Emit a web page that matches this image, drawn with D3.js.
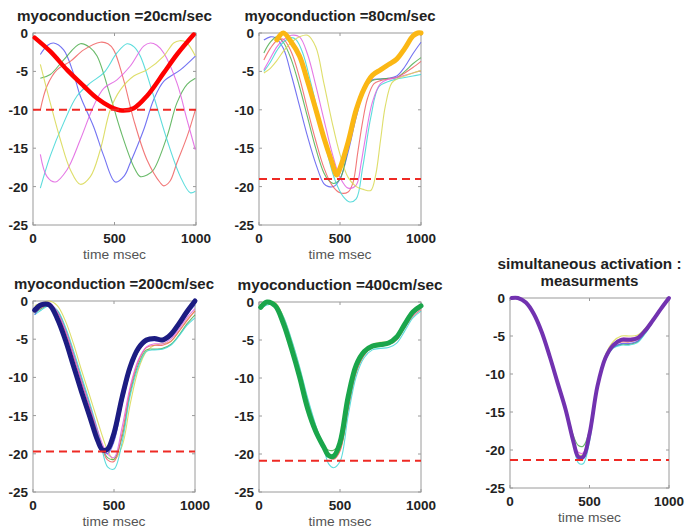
<!DOCTYPE html>
<html>
<head>
<meta charset="utf-8">
<script src="https://cdn.jsdelivr.net/npm/d3@7"></script>
<style>
  body { margin: 0; background: #fff; }
  svg { display: block; }
  text { font-family: "Liberation Sans", Arial, sans-serif; }
</style>
</head>
<body>
<svg id="chart" width="685" height="529"></svg>
<script>
// ---- data (time in msec) ----
var xTicks = [0, 500, 1000];
var yTicks = [0, -5, -10, -15, -20, -25];

// panel 1 : 20 cm/sec
var p1Thick = [[10,-0.6],[106,-2.4],[209,-4.8],[311,-6.9],[393,-8.5],[474,-9.6],[546,-10.1],[618,-9.8],[699,-8.2],[802,-5.2],[883,-2.8],[986,-0.2]];
var p1Blue = [[45,-2.8],[90,-1.6],[127,-1.3],[188,-2.2],[249,-5.3],[290,-8.2],[372,-12.2],[434,-16],[505,-19.4],[560,-18.6],[597,-16.9],[679,-12.6],[740,-8.7],[802,-6.3],[904,-4.8],[996,-3.0]];
var p1Green = [[45,-5.9],[106,-5.4],[188,-3.5],[290,-1.4],[350,-1.9],[393,-3.0],[474,-8.2],[536,-12.6],[618,-17.4],[658,-18.7],[700,-18.5],[740,-17.8],[822,-13.5],[883,-9.1],[945,-6.7],[996,-5.9]];
var p1Red = [[45,-10],[86,-6.9],[147,-4.8],[229,-3.7],[311,-2.2],[413,-1.2],[460,-1.4],[495,-2.2],[556,-6.1],[618,-11.3],[699,-16.5],[781,-19.5],[802,-19.9],[840,-19.3],[883,-16.9],[945,-13.5],[996,-10]];
var p1Cyan = [[45,-20.2],[106,-16],[188,-11.7],[270,-8.2],[352,-6.5],[434,-5.2],[515,-2.6],[577,-1.4],[620,-1.8],[658,-3.0],[740,-8.2],[822,-13.9],[904,-18.7],[965,-20.8],[996,-20.6]];
var p1Magenta = [[45,-15.8],[86,-18.7],[137,-19.4],[209,-17.8],[290,-13.9],[372,-9.5],[434,-7.2],[515,-6.1],[597,-4.3],[679,-1.7],[720,-1.3],[760,-1.6],[802,-2.6],[883,-6.5],[945,-11.3],[996,-15.2]];
var p1Yellow = [[45,-4.1],[106,-9.1],[168,-13.9],[229,-17.8],[290,-19.7],[352,-18.7],[413,-15.2],[474,-10],[536,-7.4],[618,-5.6],[699,-4.8],[802,-3.0],[863,-1.3],[900,-1.0],[940,-1.2],[996,-3.0]];

// panel 2 : 80 cm/sec
var p2Thick = [[110,-0.9],[150,0],[200,-1.2],[250,-3.0],[300,-6.3],[350,-9.9],[400,-13.6],[450,-16.8],[480,-18.5],[500,-17.6],[550,-14.2],[600,-10.0],[650,-7.2],[700,-5.5],[750,-4.8],[800,-4.1],[850,-3.4],[900,-2.0],[950,-0.4],[980,0],[1000,0]];
var p2Blue = [[30,-0.9],[70,-0.5],[100,-0.6],[150,-2.0],[200,-5.5],[250,-9.5],[300,-13.5],[350,-17.0],[400,-19.6],[430,-20.0],[460,-20.0],[500,-19.0],[550,-15.5],[600,-11.0],[650,-7.5],[700,-6.1],[750,-6.0],[800,-5.9],[850,-5.6],[900,-4.4],[950,-2.7],[1000,-1.2]];
var p2Green = [[30,-2.6],[70,-1.2],[110,-0.5],[150,-1.2],[200,-3.5],[250,-7.0],[300,-11.0],[350,-15.0],[400,-18.2],[430,-19.2],[460,-19.6],[500,-19.0],[550,-15.0],[600,-10.5],[650,-7.3],[700,-6.2],[750,-6.0],[800,-5.9],[850,-5.8],[900,-5.0],[950,-4.0],[1000,-3.2]];
var p2Red = [[30,-3.5],[70,-2.0],[110,-1.0],[150,-0.8],[200,-2.5],[250,-5.8],[300,-10.0],[350,-14.0],[400,-17.5],[450,-19.8],[500,-20.8],[550,-20.7],[580,-19.5],[610,-15.5],[640,-11.5],[670,-8.5],[710,-6.6],[750,-6.2],[800,-6.0],[850,-5.8],[900,-5.2],[950,-4.5],[1000,-3.7]];
var p2Cyan = [[30,-5.0],[70,-3.8],[110,-2.3],[150,-1.2],[200,-0.6],[230,-0.9],[270,-2.6],[320,-6.5],[370,-11.0],[420,-15.5],[470,-19.2],[520,-21.3],[560,-22.0],[600,-21.6],[640,-17.5],[690,-11.0],[740,-7.0],[800,-6.3],[850,-6.0],[900,-5.8],[950,-5.6],[1000,-5.4]];
var p2Magenta = [[30,-4.8],[70,-3.3],[110,-1.8],[150,-0.9],[200,-0.3],[250,-0.5],[300,-2.8],[350,-6.8],[400,-11.2],[450,-15.5],[500,-18.8],[550,-20.2],[600,-19.8],[630,-17.0],[650,-14.5],[700,-9.0],[750,-6.6],[800,-6.0],[850,-5.8],[900,-5.5],[950,-5.2],[1000,-4.9]];
var p2Yellow = [[30,-5.2],[70,-4.6],[110,-3.6],[150,-2.4],[200,-1.2],[250,-0.5],[300,-0.3],[350,-1.8],[400,-6.5],[450,-11.5],[500,-15.8],[550,-18.8],[600,-20.0],[650,-20.4],[690,-20.5],[720,-18.5],[750,-14.0],[780,-9.5],[820,-6.5],[860,-5.9],[900,-5.6],[950,-5.2],[1000,-4.9]];

// panels 3-5 share one time grid
var tGrid = [10, 50, 100, 150, 200, 250, 300, 350, 400, 430, 460, 500, 550, 600, 650, 700, 750, 800, 850, 900, 950, 1000];

// panel 3 : 200 cm/sec
var p3Thick   = [-1.2,-0.5,-0.5,-2.3,-5.1,-8.5,-11.9,-15.1,-18.3,-19.5,-19.4,-17.3,-12.6,-8.6,-6.2,-5.1,-4.9,-5.1,-4.4,-3.0,-1.4,0];
var p3Blue    = [-1.8,-0.8,-0.4,-1.9,-4.6,-8.0,-11.4,-14.7,-18.0,-19.6,-20.0,-18.4,-13.5,-9.3,-6.6,-5.4,-5.2,-5.3,-4.7,-3.3,-1.8,-0.5];
var p3Green   = [-1.6,-1.0,-0.6,-1.3,-3.6,-6.8,-10.2,-13.6,-17.2,-19.3,-20.5,-20.7,-17.8,-12.0,-8.3,-6.4,-6.3,-6.2,-5.7,-4.5,-3.0,-1.8];
var p3Red     = [-1.5,-0.9,-0.5,-1.5,-4.0,-7.2,-10.6,-14.0,-17.5,-19.5,-20.8,-21.0,-17.3,-11.6,-7.9,-6.1,-5.8,-5.8,-5.3,-4.0,-2.6,-1.3];
var p3Cyan    = [-1.8,-1.2,-0.6,-1.2,-3.4,-6.5,-9.9,-13.3,-17.0,-19.8,-21.7,-22.0,-18.5,-12.4,-8.6,-6.6,-6.4,-6.3,-5.8,-4.6,-3.2,-2.2];
var p3Magenta = [-1.0,-0.4,-0.2,-1.4,-3.8,-7.0,-10.5,-13.8,-17.0,-18.8,-20.0,-20.5,-16.5,-11.2,-7.7,-6.0,-5.6,-5.6,-5.0,-3.7,-2.2,-1.0];
var p3Yellow  = [-0.6,-0.3,0,-0.6,-2.6,-5.6,-9.1,-12.4,-15.8,-17.8,-19.5,-20.8,-19.0,-13.5,-9.0,-6.6,-5.8,-5.6,-5.3,-4.0,-2.5,-1.3];

// panel 4 : 400 cm/sec
var p4Thick   = [-0.7,0,-0.5,-2.8,-6.1,-9.8,-14.0,-17.0,-19.1,-20.2,-20.3,-18.5,-12.5,-8.3,-6.5,-5.8,-5.6,-5.4,-4.6,-2.9,-1.3,-0.5];
var p4Blue    = [-0.7,-0.1,-0.4,-2.5,-5.8,-9.5,-13.7,-16.8,-19.1,-20.3,-20.5,-18.9,-13.0,-8.6,-6.7,-5.9,-5.7,-5.5,-4.8,-3.1,-1.6,-0.7];
var p4Green   = [-0.6,0,-0.4,-2.6,-5.9,-9.6,-13.8,-16.9,-19.0,-19.5,-19.5,-18.6,-12.8,-8.5,-6.6,-5.8,-5.7,-5.5,-4.7,-3.0,-1.5,-0.6];
var p4Red     = [-0.8,-0.2,-0.3,-2.1,-5.3,-9.0,-13.1,-16.5,-19.0,-20.3,-20.7,-19.6,-14.2,-9.3,-7.0,-6.0,-5.8,-5.6,-5.0,-3.4,-1.9,-1.0];
var p4Cyan    = [-0.9,-0.4,-0.3,-1.9,-4.9,-8.5,-12.6,-16.2,-19.3,-21.3,-21.8,-21.0,-15.0,-9.8,-7.3,-6.3,-6.1,-6.0,-5.4,-3.8,-2.1,-1.2];
var p4Magenta = [-0.5,-0.1,-0.3,-2.3,-5.6,-9.3,-13.4,-16.7,-19.2,-20.2,-20.4,-19.2,-13.5,-8.9,-6.8,-5.9,-5.8,-5.6,-4.9,-3.2,-1.7,-0.8];
var p4Yellow  = [-0.3,0,-0.1,-1.9,-5.0,-8.6,-12.8,-16.3,-19.0,-20.2,-20.6,-19.5,-14.0,-9.2,-6.9,-5.6,-5.3,-5.2,-4.4,-2.8,-1.4,-0.6];

// panel 5 : simultaneous activation
var p5Thick   = [0,0,-0.6,-2.1,-4.5,-7.7,-11.2,-14.7,-19.0,-20.9,-20.9,-17.9,-11.6,-7.9,-6.2,-5.5,-5.5,-5.3,-4.3,-2.9,-1.4,0];
var p5Blue    = [0,0,-0.6,-2.1,-4.5,-7.7,-11.2,-14.8,-19.1,-21.2,-21.2,-18.1,-11.8,-8.1,-6.5,-6.0,-6.0,-5.7,-4.5,-3.0,-1.5,0];
var p5Green   = [0,0,-0.6,-2.1,-4.5,-7.6,-11.1,-14.5,-18.2,-19.4,-19.5,-17.4,-11.6,-8.0,-6.5,-6.1,-6.1,-5.8,-4.6,-3.0,-1.5,0];
var p5Red     = [0,0,-0.6,-2.1,-4.5,-7.7,-11.2,-14.7,-19.0,-21.1,-21.1,-18.1,-11.7,-8.0,-6.3,-5.8,-5.8,-5.5,-4.4,-2.9,-1.4,0];
var p5Cyan    = [0,0,-0.6,-2.1,-4.6,-7.8,-11.3,-14.9,-19.3,-21.7,-21.8,-18.9,-12.0,-8.2,-6.6,-6.2,-6.2,-5.9,-4.7,-3.1,-1.5,0];
var p5Magenta = [0,0,-0.6,-2.1,-4.5,-7.7,-11.2,-14.7,-18.8,-20.3,-20.4,-17.7,-11.5,-7.7,-6.0,-5.3,-5.3,-5.1,-4.2,-2.8,-1.4,0];
var p5Yellow  = [0,0,-0.6,-2.0,-4.4,-7.6,-11.1,-14.6,-18.9,-20.6,-20.6,-17.7,-11.3,-7.5,-5.7,-5.0,-5.0,-4.9,-4.0,-2.7,-1.3,0];

var dashLevels = [-10, -19, -19.7, -20.9, -21.3];
var titles = [["myoconduction =20cm/sec"], ["myoconduction =80cm/sec"], ["myoconduction =200cm/sec"],
              ["myoconduction =400cm/sec"], ["simultaneous activation :", "measurments"]];
var titleWidths = [[195], [191], [200], [205], [184, 98]];

// thin line colours (matlab default cycle, washed out)
var thinColors = {blue: "#5a5af0", green: "#4fae4f", red: "#f06060", cyan: "#3fd6d6", magenta: "#e060e0", yellow: "#d8d850"};

function onGrid(vals) { return vals.map(function(v, i) { return [tGrid[i], v]; }); }

var panels = [
  { x: 33, y: 33, w: 163, h: 192, thick: p1Thick, thickColor: "#ff0000", thickW: 4.5,
    thin: [["blue", p1Blue], ["green", p1Green], ["red", p1Red], ["cyan", p1Cyan], ["magenta", p1Magenta], ["yellow", p1Yellow]] },
  { x: 259, y: 33, w: 162, h: 192, thick: p2Thick, thickColor: "#fbb714", thickW: 5,
    thin: [["blue", p2Blue], ["green", p2Green], ["red", p2Red], ["cyan", p2Cyan], ["magenta", p2Magenta], ["yellow", p2Yellow]] },
  { x: 33, y: 301, w: 162, h: 191, thick: onGrid(p3Thick), thickColor: "#1c1c82", thickW: 5,
    thin: [["yellow", onGrid(p3Yellow)], ["green", onGrid(p3Green)], ["red", onGrid(p3Red)], ["cyan", onGrid(p3Cyan)], ["magenta", onGrid(p3Magenta)], ["blue", onGrid(p3Blue)]] },
  { x: 259, y: 302, w: 162, h: 190, thick: onGrid(p4Thick), thickColor: "#1aa64b", thickW: 5,
    thin: [["yellow", onGrid(p4Yellow)], ["green", onGrid(p4Green)], ["red", onGrid(p4Red)], ["cyan", onGrid(p4Cyan)], ["magenta", onGrid(p4Magenta)], ["blue", onGrid(p4Blue)]] },
  { x: 510, y: 298, w: 159, h: 190, thick: onGrid(p5Thick), thickColor: "#7232b0", thickW: 4,
    thin: [["yellow", onGrid(p5Yellow)], ["green", onGrid(p5Green)], ["red", onGrid(p5Red)], ["cyan", onGrid(p5Cyan)], ["magenta", onGrid(p5Magenta)], ["blue", onGrid(p5Blue)]] }
];

var svg = d3.select("#chart");
var axisColor = "#9a9a9a";

panels.forEach(function(p, i) {
  var g = svg.append("g").attr("transform", "translate(" + p.x + "," + p.y + ")");
  var x = d3.scaleLinear().domain([0, 1000]).range([0, p.w]);
  var y = d3.scaleLinear().domain([-25, 0]).range([p.h, 0]);

  var line = d3.line()
    .x(function(d) { return x(d[0]); })
    .y(function(d) { return y(d[1]); })
    .curve(d3.curveCatmullRom.alpha(0.5));

  // box
  g.append("rect").attr("width", p.w).attr("height", p.h)
    .attr("fill", "none").attr("stroke", axisColor).attr("stroke-width", 1);

  // inward ticks on all four sides (matlab style)
  xTicks.forEach(function(t) {
    g.append("line").attr("x1", x(t)).attr("x2", x(t)).attr("y1", p.h).attr("y2", p.h - 3).attr("stroke", axisColor);
    g.append("line").attr("x1", x(t)).attr("x2", x(t)).attr("y1", 0).attr("y2", 3).attr("stroke", axisColor);
  });
  yTicks.forEach(function(t) {
    g.append("line").attr("x1", 0).attr("x2", 3).attr("y1", y(t)).attr("y2", y(t)).attr("stroke", axisColor);
    g.append("line").attr("x1", p.w).attr("x2", p.w - 3).attr("y1", y(t)).attr("y2", y(t)).attr("stroke", axisColor);
  });

  // tick labels
  g.selectAll(".xl").data(xTicks).enter().append("text")
    .attr("x", function(d) { return x(d); }).attr("y", p.h + 18)
    .attr("text-anchor", "middle").attr("font-size", 13.5).attr("font-weight", "bold").attr("fill", "#222")
    .text(function(d) { return d; });
  g.selectAll(".yl").data(yTicks).enter().append("text")
    .attr("x", -5).attr("y", function(d) { return y(d) + 5; })
    .attr("text-anchor", "end").attr("font-size", 13.5).attr("font-weight", "bold").attr("fill", "#222")
    .text(function(d) { return d; });

  g.append("text").attr("x", p.w / 2).attr("y", p.h + 34)
    .attr("text-anchor", "middle").attr("font-size", 12.5).attr("fill", "#555")
    .attr("textLength", 63).attr("lengthAdjust", "spacingAndGlyphs")
    .text("time msec");

  // title, stretched to the width seen in the picture
  var tl = titles[i];
  tl.forEach(function(s, k) {
    g.append("text").attr("x", p.w / 2).attr("y", -12 - (tl.length - 1 - k) * 17)
      .attr("text-anchor", "middle").attr("font-size", 14).attr("font-weight", "bold").attr("fill", "#222")
      .attr("textLength", titleWidths[i][k]).attr("lengthAdjust", "spacingAndGlyphs")
      .text(s);
  });

  var plot = g.append("g");

  // thin traces
  p.thin.forEach(function(s) {
    plot.append("path").datum(s[1]).attr("d", line)
      .attr("fill", "none").attr("stroke", thinColors[s[0]]).attr("stroke-width", 1.1).attr("opacity", 0.85);
  });

  // thick trace
  plot.append("path").datum(p.thick).attr("d", line)
    .attr("fill", "none").attr("stroke", p.thickColor).attr("stroke-width", p.thickW)
    .attr("stroke-linejoin", "round").attr("stroke-linecap", "round");

  // dashed level
  g.append("line").attr("x1", 0).attr("x2", p.w)
    .attr("y1", y(dashLevels[i])).attr("y2", y(dashLevels[i]))
    .attr("stroke", "#ee2a24").attr("stroke-width", 2).attr("stroke-dasharray", "8,5");
});
</script>
</body>
</html>
